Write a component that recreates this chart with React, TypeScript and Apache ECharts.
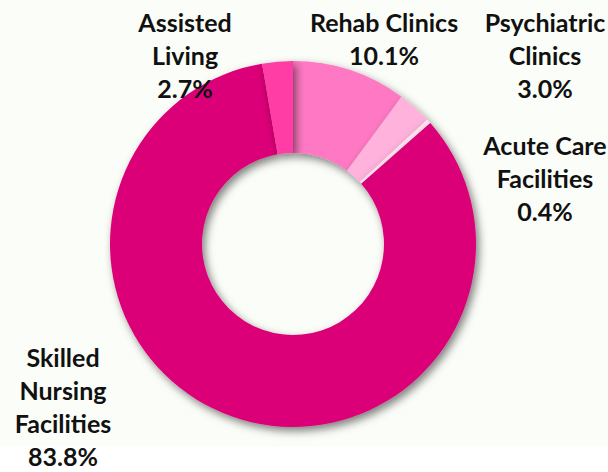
import React, { useEffect, useRef } from "react";
import * as echarts from "echarts";

const categories = [
  "Rehab Clinics",
  "Psychiatric\nClinics",
  "Acute Care\nFacilities",
  "Skilled\nNursing\nFacilities",
  "Assisted\nLiving",
];
const values = [10.1, 3.0, 0.4, 83.8, 2.7];
const colors = ["#FF78C3", "#FFB2DC", "#FFE4F2", "#DC0078", "#FF3DA5"];
// label anchor positions (center of text block)
const labelPos: [number, number][] = [
  [384, 38],
  [545, 55],
  [545, 178],
  [63, 406],
  [185, 55],
];

export default function App() {
  const ref = useRef<HTMLDivElement>(null);
  useEffect(() => {
    document.body.style.margin = "0";
    const chart = echarts.init(ref.current!, null, { renderer: "svg" });
    chart.setOption({
      animation: false,
      backgroundColor: "#FBFDF8",
      graphic: [
        {
          type: "rect",
          shape: { x: 0, y: 446, width: 608, height: 26 },
          style: { fill: "#FFFFFF" },
          z: -10,
        },
      ],
      series: [
        {
          type: "pie",
          center: [293, 244],
          radius: [91, 183],
          startAngle: 90,
          clockwise: true,
          avoidLabelOverlap: false,
          itemStyle: {
            shadowBlur: 8,
            shadowColor: "rgba(0,0,0,0.5)",
            shadowOffsetX: 3,
            shadowOffsetY: 4,
          },
          label: {
            show: true,
            position: "outside",
            formatter: (p: any) => `${p.name}\n${p.value.toFixed(1)}%`,
            fontFamily: "Lato",
            fontWeight: "bold",
            fontSize: 25,
            lineHeight: 33,
            color: "#111111",
            align: "center",
          },
          labelLine: { show: false },
          labelLayout: (params: any) => {
            const p = labelPos[params.dataIndex];
            return { x: p[0], y: p[1], align: "center", verticalAlign: "middle" };
          },
          emphasis: { disabled: true },
          data: categories.map((c, i) => ({
            name: c,
            value: values[i],
            itemStyle: { color: colors[i] },
          })),
        },
      ],
    });
    return () => chart.dispose();
  }, []);
  return <div ref={ref} style={{ width: 608, height: 472 }} />;
}
